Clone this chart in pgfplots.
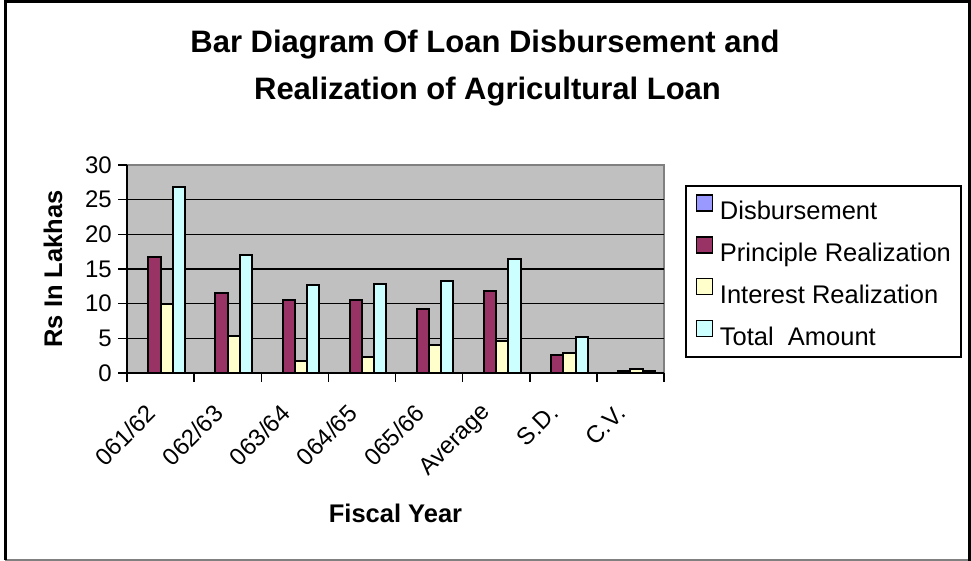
\documentclass[border=0pt]{standalone}
\usepackage{pgfplots}
\usepackage{pgfplotstable}
\pgfplotsset{compat=1.18}
\usepackage{fontspec}
\setmainfont{Liberation Sans}

\definecolor{disbcol}{HTML}{9999FF}
\definecolor{princol}{HTML}{993366}
\definecolor{intcol}{HTML}{FFFFCC}
\definecolor{totcol}{HTML}{CCFFFF}
\definecolor{plotbg}{HTML}{C0C0C0}
\definecolor{edgegray}{HTML}{808080}

% Rs in lakhas, one row per fiscal year / statistic
\pgfplotstableread{
idx disb princ inter total
0   0    16.7  10.0  26.8
1   0    11.5  5.4   17.0
2   0    10.6  1.8   12.7
3   0    10.6  2.3   12.9
4   0    9.2   4.0   13.3
5   0    11.8  4.6   16.5
6   0    2.6   2.9   5.2
7   0    0.3   0.55  0.3
}\loandata

\pgfplotsset{
  swatch/.style={legend image code/.code={%
    \draw[##1, line width=1.2pt] (0pt,-0.5pt) rectangle (16pt,15.5pt);}},
}

\begin{document}
\begin{tikzpicture}[x=1pt,y=1pt]
\path[use as bounding box] (0,0) rectangle (971,561);
\fill[white] (0,0) rectangle (971,561);
% chart frame
\draw[edgegray, line width=1.5pt] (5,1) -- (969,1);
\draw[black, line width=3pt] (5.7,1) -- (5.7,559.7) -- (969.5,559.7) -- (969.5,0);

\begin{axis}[
  at={(127pt,188pt)}, anchor=south west,
  scale only axis, width=537pt, height=208pt,
  xmin=-0.5, xmax=7.5, ymin=0, ymax=30,
  axis lines=left,
  axis line style={-, black, line width=1.5pt},
  axis background/.style={fill=plotbg, draw=edgegray, line width=1.5pt},
  ybar=0pt, bar width=12.2pt,
  xtick={-0.5,0.5,1.5,2.5,3.5,4.5,5.5,6.5,7.5},
  xticklabels={061/62,062/63,063/64,064/65,065/66,Average,S.D.,C.V.,{}},
  ytick={0,5,10,15,20,25},
  extra y ticks={30},
  extra y tick style={grid=none},
  tick align=outside,
  major tick length=9pt,
  tick style={black, line width=1.5pt},
  ymajorgrids,
  major grid style={black, line width=1.6pt},
  /pgf/number format/assume math mode=true,
  yticklabel style={font=\fontsize{24}{24}\selectfont, inner sep=0pt, anchor=east, xshift=-6pt},
  xticklabel style={font=\fontsize{24}{24}\selectfont, inner sep=0pt, anchor=east,
    xshift=24.5pt, yshift=-27pt, rotate=45},
  xlabel={Fiscal Year},
  xlabel style={font=\bfseries\fontsize{25.5}{25.5}\selectfont,
    at={(axis description cs:0.5,-0.7197)}, anchor=base},
  ylabel={Rs In Lakhas},
  ylabel style={font=\bfseries\fontsize{25.5}{25.5}\selectfont,
    at={(axis description cs:-0.121,0.5)}, anchor=base},
  legend cell align=left,
  legend style={at={(axis description cs:1.0391,0.9038)}, anchor=north west,
    draw=black, line width=1.5pt, fill=white,
    font=\fontsize{25.5}{25.5}\selectfont,
    inner xsep=10pt, inner ysep=8.7pt, row sep=13.8pt, column sep=7pt,
    nodes={inner sep=0pt, text height=21pt, text depth=3pt}},
]
\addplot[fill=disbcol, draw=black, line width=2pt, swatch] table[x=idx, y=disb] {\loandata};
\addplot[fill=princol, draw=black, line width=2pt, swatch] table[x=idx, y=princ] {\loandata};
\addplot[fill=intcol, draw=black, line width=2pt, swatch] table[x=idx, y=inter] {\loandata};
\addplot[fill=totcol, draw=black, line width=2pt, swatch] table[x=idx, y=total] {\loandata};
\legend{Disbursement, Principle Realization, Interest Realization, Total\ \ Amount}
\end{axis}

% two-line chart title
\node[font=\bfseries\fontsize{31}{31}\selectfont, anchor=base] at (485,508)
  {Bar Diagram Of Loan Disbursement and};
\node[font=\bfseries\fontsize{31}{31}\selectfont, anchor=base] at (487.5,461)
  {Realization of Agricultural Loan};
\end{tikzpicture}
\end{document}
